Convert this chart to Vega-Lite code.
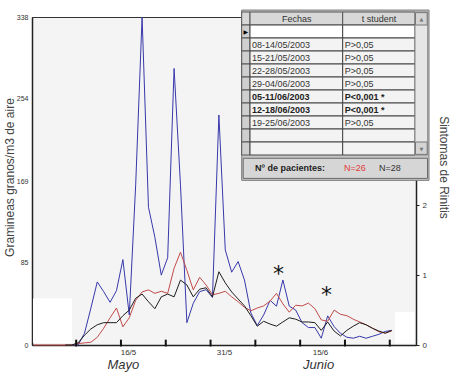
{
  "$schema": "https://vega.github.io/schema/vega-lite/v6.json",
  "width": 384,
  "height": 328,
  "autosize": {"type": "none"},
  "padding": {"left": 32, "top": 17, "right": 41, "bottom": 32},
  "background": "#ffffff",
  "config": {
    "font": "Liberation Sans",
    "view": {"fill": "#f4f4f4", "stroke": "#333333", "strokeWidth": 1},
    "axis": {"labelFont": "Liberation Sans", "titleFont": "Liberation Sans", "labelColor": "#333333", "titleColor": "#444444", "domainColor": "#222222", "tickColor": "#222222", "grid": false, "titleFontWeight": "normal"}
  },
  "datasets": {
    "series": [
      {"dia": 1, "polen": null, "n26": 0, "n28": null},
      {"dia": 2, "polen": null, "n26": 0, "n28": null},
      {"dia": 3, "polen": null, "n26": 0, "n28": null},
      {"dia": 4, "polen": null, "n26": 0, "n28": null},
      {"dia": 5, "polen": null, "n26": 0, "n28": null},
      {"dia": 6, "polen": null, "n26": 0, "n28": 0},
      {"dia": 7, "polen": 0, "n26": 0, "n28": 0},
      {"dia": 8, "polen": 0, "n26": 0.02, "n28": 0.03},
      {"dia": 9, "polen": 12, "n26": 0.03, "n28": 0.14},
      {"dia": 10, "polen": 38, "n26": 0.04, "n28": 0.23},
      {"dia": 11, "polen": 65, "n26": 0.11, "n28": 0.29},
      {"dia": 12, "polen": 55, "n26": 0.24, "n28": 0.32},
      {"dia": 13, "polen": 44, "n26": 0.39, "n28": 0.32},
      {"dia": 14, "polen": 56, "n26": 0.53, "n28": 0.32},
      {"dia": 15, "polen": 88, "n26": 0.26, "n28": 0.42},
      {"dia": 16, "polen": 31, "n26": 0.39, "n28": 0.5},
      {"dia": 17, "polen": 165, "n26": 0.64, "n28": 0.67},
      {"dia": 18, "polen": 338, "n26": 0.76, "n28": 0.73},
      {"dia": 19, "polen": 142, "n26": 0.79, "n28": 0.62},
      {"dia": 20, "polen": 111, "n26": 0.74, "n28": 0.52},
      {"dia": 21, "polen": 72, "n26": 0.77, "n28": 0.69},
      {"dia": 22, "polen": 90, "n26": 0.74, "n28": 0.73},
      {"dia": 23, "polen": 285, "n26": 1.1, "n28": 0.69},
      {"dia": 24, "polen": 165, "n26": 1.33, "n28": 0.93},
      {"dia": 25, "polen": 23, "n26": 1.07, "n28": 0.86},
      {"dia": 26, "polen": 43, "n26": 0.79, "n28": 0.69},
      {"dia": 27, "polen": 55, "n26": 0.97, "n28": 0.8},
      {"dia": 28, "polen": 57, "n26": 0.86, "n28": 0.82},
      {"dia": 29, "polen": 49, "n26": 0.72, "n28": 0.69},
      {"dia": 30, "polen": 237, "n26": 0.74, "n28": 1.05},
      {"dia": 31, "polen": 98, "n26": 0.77, "n28": 0.89},
      {"dia": 32, "polen": 75, "n26": 0.69, "n28": 0.76},
      {"dia": 33, "polen": 86, "n26": 0.62, "n28": 0.66},
      {"dia": 34, "polen": 67, "n26": 0.54, "n28": 0.56},
      {"dia": 35, "polen": 33, "n26": 0.49, "n28": 0.42},
      {"dia": 36, "polen": 20, "n26": 0.53, "n28": 0.27},
      {"dia": 37, "polen": 31, "n26": 0.56, "n28": 0.34},
      {"dia": 38, "polen": 46, "n26": 0.63, "n28": 0.3},
      {"dia": 39, "polen": 40, "n26": 0.74, "n28": 0.27},
      {"dia": 40, "polen": 67, "n26": 0.59, "n28": 0.33},
      {"dia": 41, "polen": 40, "n26": 0.47, "n28": 0.39},
      {"dia": 42, "polen": 36, "n26": 0.57, "n28": 0.37},
      {"dia": 43, "polen": 23, "n26": 0.56, "n28": 0.33},
      {"dia": 44, "polen": 18, "n26": 0.6, "n28": 0.33},
      {"dia": 45, "polen": 18, "n26": 0.52, "n28": 0.32},
      {"dia": 46, "polen": 7, "n26": 0.36, "n28": 0.21},
      {"dia": 47, "polen": 30, "n26": 0.34, "n28": 0.33},
      {"dia": 48, "polen": 19, "n26": 0.5, "n28": 0.2},
      {"dia": 49, "polen": 12, "n26": 0.44, "n28": 0.13},
      {"dia": 50, "polen": 8, "n26": 0.42, "n28": 0.21},
      {"dia": 51, "polen": 7, "n26": 0.37, "n28": 0.27},
      {"dia": 52, "polen": 9, "n26": 0.33, "n28": 0.32},
      {"dia": 53, "polen": 7, "n26": 0.29, "n28": 0.29},
      {"dia": 54, "polen": 9, "n26": 0.24, "n28": 0.24},
      {"dia": 55, "polen": 11, "n26": 0.19, "n28": 0.2},
      {"dia": 56, "polen": 14, "n26": 0.17, "n28": 0.17},
      {"dia": 57, "polen": 15, "n26": 0.2, "n28": 0.21}
    ],
    "semanas": [
      {"dia": 7.7}, {"dia": 14.7}, {"dia": 21.7}, {"dia": 28.7},
      {"dia": 35.7}, {"dia": 42.7}, {"dia": 49.7}, {"dia": 56.7}
    ],
    "asteriscos": [
      {"dia": 39.3, "nivel": 1.085},
      {"dia": 46.8, "nivel": 0.79}
    ],
    "tabla": [
      {"fila": 1, "fechas": "", "t": ""},
      {"fila": 2, "fechas": "08-14/05/2003", "t": "P>0,05"},
      {"fila": 3, "fechas": "15-21/05/2003", "t": "P>0,05"},
      {"fila": 4, "fechas": "22-28/05/2003", "t": "P>0,05"},
      {"fila": 5, "fechas": "29-04/06/2003", "t": "P>0,05"},
      {"fila": 6, "fechas": "05-11/06/2003", "t": "P<0,001  *"},
      {"fila": 7, "fechas": "12-18/06/2003", "t": "P<0,001  *"},
      {"fila": 8, "fechas": "19-25/06/2003", "t": "P>0,05"},
      {"fila": 9, "fechas": "", "t": ""},
      {"fila": 10, "fechas": "", "t": ""}
    ],
    "uno": [{}]
  },
  "layer": [
    {
      "data": {"name": "series"},
      "layer": [
        {
          "data": {"name": "uno"},
          "mark": {"type": "rect", "fill": "#ffffff"},
          "encoding": {
            "x": {"datum": 0.95, "type": "quantitative", "axis": null},
            "x2": {"datum": 7.05},
            "y": {"datum": 2, "type": "quantitative", "scale": {"domain": [0, 338], "nice": false}, "axis": null},
            "y2": {"datum": 48}
          }
        },
        {
          "data": {"name": "uno"},
          "mark": {"type": "rect", "fill": "#ffffff"},
          "encoding": {
            "x": {"datum": 57.5, "type": "quantitative", "axis": null},
            "x2": {"datum": 60.55},
            "y": {"datum": 1.5, "type": "quantitative", "scale": {"domain": [0, 338], "nice": false}, "axis": null},
            "y2": {"datum": 34}
          }
        },
        {
          "transform": [{"filter": "isValid(datum.polen)"}],
          "mark": {"type": "line", "color": "#3838ac", "strokeWidth": 1},
          "encoding": {
            "x": {
              "field": "dia", "type": "quantitative",
              "scale": {"domain": [0.8, 60.8], "nice": false, "zero": false},
              "axis": null
            },
            "y": {
              "field": "polen", "type": "quantitative",
              "scale": {"domain": [0, 338], "nice": false},
              "axis": {
                "values": [0, 85, 169, 254, 338], "tickSize": 0, "labelPadding": 4, "labelFontSize": 7,
                "title": "Gramineas granos/m3 de aire", "titleFontSize": 12, "titlePadding": 0, "titleY": 160, "domainWidth": 1.5
              }
            }
          }
        },
        {
          "transform": [
            {"fold": ["n26", "n28"], "as": ["grupo", "sintomas"]},
            {"filter": "isValid(datum.sintomas)"}
          ],
          "mark": {"type": "line", "strokeWidth": 1},
          "encoding": {
            "x": {
              "field": "dia", "type": "quantitative",
              "axis": {
                "orient": "bottom", "title": null,
                "values": [15.8, 30.8, 45.8],
                "labelExpr": "datum.value < 20 ? '16/5' : datum.value < 40 ? '31/5' : '15/6'",
                "labelOverlap": false, "labelBound": false, "labelFlush": false,
                "ticks": false, "domain": true, "domainWidth": 1.5, "labelPadding": 3, "labelFontSize": 8
              }
            },
            "y": {
              "field": "sintomas", "type": "quantitative",
              "scale": {"domain": [0, 4.7], "nice": false},
              "axis": {
                "orient": "right", "values": [0, 1, 2, 3, 4], "tickSize": 3, "labelPadding": 3, "labelFontSize": 8,
                "title": "Sintomas de Rinitis", "titleFontSize": 12, "titlePadding": 10, "titleY": 150, "domainWidth": 1.5
              }
            },
            "color": {"field": "grupo", "type": "nominal", "scale": {"domain": ["n26", "n28"], "range": ["#c24a4a", "#1e1e1e"]}, "legend": null}
          }
        },
        {
          "data": {"name": "semanas"},
          "mark": {"type": "rule", "color": "#111111", "strokeWidth": 2},
          "encoding": {
            "x": {"field": "dia", "type": "quantitative", "axis": null},
            "y": {"datum": -1.5, "type": "quantitative", "scale": {"domain": [0, 338], "nice": false}, "axis": null},
            "y2": {"datum": 5.5}
          }
        },
        {
          "data": {"name": "asteriscos"},
          "mark": {"type": "text", "text": "*", "font": "DejaVu Sans", "fontSize": 22, "color": "#111111", "baseline": "middle", "dy": 5},
          "encoding": {
            "x": {
              "field": "dia", "type": "quantitative",
              "axis": {
                "orient": "bottom", "title": null,
                "values": [15, 45.5],
                "labelExpr": "datum.value < 30 ? 'Mayo' : 'Junio'",
                "labelOverlap": false, "labelBound": false, "labelFlush": false,
                "ticks": false, "domain": false, "labelPadding": 13, "labelFontSize": 13, "labelFontStyle": "italic"
              }
            },
            "y": {"field": "nivel", "type": "quantitative", "scale": {"domain": [0, 4.7], "nice": false}, "axis": null}
          }
        }
      ],
      "resolve": {"scale": {"y": "independent"}, "axis": {"x": "independent"}}
    },
    {
      "layer": [
        {
          "data": {"name": "uno"},
          "mark": {"type": "rect", "fill": "#c6c6c6", "stroke": "#7a7a7a", "strokeWidth": 1},
          "encoding": {
            "x": {"datum": 0, "type": "quantitative", "scale": {"domain": [0, 187.3], "range": [209.7, 397], "nice": false, "zero": false}, "axis": null},
            "x2": {"datum": 187.3},
            "y": {"datum": -0.15, "type": "quantitative", "scale": {"domain": [0, 13], "range": [-5, 164], "nice": false, "zero": false}, "axis": null},
            "y2": {"datum": 12.95}
          }
        },
        {
          "data": {"name": "uno"},
          "mark": {"type": "rect", "fill": "#d8d8d8", "stroke": "#555555", "strokeWidth": 1},
          "encoding": {"x": {"datum": 0, "type": "quantitative"}, "x2": {"datum": 8.3}, "y": {"datum": 0, "type": "quantitative"}, "y2": {"datum": 1}}
        },
        {
          "data": {"name": "uno"},
          "mark": {"type": "rect", "fill": "#d8d8d8", "stroke": "#555555", "strokeWidth": 1},
          "encoding": {"x": {"datum": 8.3, "type": "quantitative"}, "x2": {"datum": 101}, "y": {"datum": 0, "type": "quantitative"}, "y2": {"datum": 1}}
        },
        {
          "data": {"name": "uno"},
          "mark": {"type": "rect", "fill": "#d8d8d8", "stroke": "#555555", "strokeWidth": 1},
          "encoding": {"x": {"datum": 101, "type": "quantitative"}, "x2": {"datum": 173.3}, "y": {"datum": 0, "type": "quantitative"}, "y2": {"datum": 1}}
        },
        {
          "data": {"name": "tabla"},
          "transform": [{"calculate": "datum.fila + 1", "as": "fila2"}],
          "mark": {"type": "rect", "fill": "#cfcfcf", "stroke": "#555555", "strokeWidth": 1},
          "encoding": {"x": {"datum": 0, "type": "quantitative"}, "x2": {"datum": 8.3}, "y": {"field": "fila", "type": "quantitative"}, "y2": {"field": "fila2"}}
        },
        {
          "data": {"name": "tabla"},
          "transform": [{"calculate": "datum.fila + 1", "as": "fila2"}],
          "mark": {"type": "rect", "stroke": "#444444", "strokeWidth": 1},
          "encoding": {
            "x": {"datum": 8.3, "type": "quantitative"}, "x2": {"datum": 101},
            "y": {"field": "fila", "type": "quantitative"}, "y2": {"field": "fila2"},
            "fill": {"condition": {"test": "datum.fila == 1", "value": "#ffffff"}, "value": "#f3f3f3"}
          }
        },
        {
          "data": {"name": "tabla"},
          "transform": [{"calculate": "datum.fila + 1", "as": "fila2"}],
          "mark": {"type": "rect", "stroke": "#444444", "strokeWidth": 1},
          "encoding": {
            "x": {"datum": 101, "type": "quantitative"}, "x2": {"datum": 173.3},
            "y": {"field": "fila", "type": "quantitative"}, "y2": {"field": "fila2"},
            "fill": {"condition": {"test": "datum.fila == 1", "value": "#ffffff"}, "value": "#f3f3f3"}
          }
        },
        {
          "data": {"name": "uno"},
          "mark": {"type": "rect", "fill": "#e6e6e6", "stroke": "#888888", "strokeWidth": 1},
          "encoding": {"x": {"datum": 173.3, "type": "quantitative"}, "x2": {"datum": 186}, "y": {"datum": 0, "type": "quantitative"}, "y2": {"datum": 11}}
        },
        {
          "data": {"name": "uno"},
          "mark": {"type": "rect", "fill": "#d4d4d4", "stroke": "#777777", "strokeWidth": 1},
          "encoding": {"x": {"datum": 173.8, "type": "quantitative"}, "x2": {"datum": 185.5}, "y": {"datum": 0.05, "type": "quantitative"}, "y2": {"datum": 1}}
        },
        {
          "data": {"name": "uno"},
          "mark": {"type": "rect", "fill": "#d4d4d4", "stroke": "#777777", "strokeWidth": 1},
          "encoding": {"x": {"datum": 173.8, "type": "quantitative"}, "x2": {"datum": 185.5}, "y": {"datum": 10, "type": "quantitative"}, "y2": {"datum": 10.95}}
        },
        {
          "data": {"name": "uno"},
          "mark": {"type": "rect", "fill": "#d6d6d6", "stroke": "#6a6a6a", "strokeWidth": 1},
          "encoding": {"x": {"datum": 1.5, "type": "quantitative"}, "x2": {"datum": 185.8}, "y": {"datum": 11.25, "type": "quantitative"}, "y2": {"datum": 12.8}}
        },
        {
          "data": {"name": "uno"},
          "mark": {"type": "text", "text": "Fechas", "fontSize": 9, "color": "#333333", "align": "center", "baseline": "middle"},
          "encoding": {"x": {"datum": 55, "type": "quantitative"}, "y": {"datum": 0.5, "type": "quantitative"}}
        },
        {
          "data": {"name": "uno"},
          "mark": {"type": "text", "text": "t student", "fontSize": 9, "color": "#333333", "align": "center", "baseline": "middle"},
          "encoding": {"x": {"datum": 137.3, "type": "quantitative"}, "y": {"datum": 0.5, "type": "quantitative"}}
        },
        {
          "data": {"name": "uno"},
          "mark": {"type": "text", "text": "▶", "fontSize": 6, "color": "#000000", "align": "center", "baseline": "middle", "font": "DejaVu Sans"},
          "encoding": {"x": {"datum": 4.15, "type": "quantitative"}, "y": {"datum": 1.5, "type": "quantitative"}}
        },
        {
          "data": {"name": "uno"},
          "mark": {"type": "text", "text": "▲", "fontSize": 5, "color": "#777777", "align": "center", "baseline": "middle", "font": "DejaVu Sans"},
          "encoding": {"x": {"datum": 179.6, "type": "quantitative"}, "y": {"datum": 0.5, "type": "quantitative"}}
        },
        {
          "data": {"name": "uno"},
          "mark": {"type": "text", "text": "▼", "fontSize": 5, "color": "#777777", "align": "center", "baseline": "middle", "font": "DejaVu Sans"},
          "encoding": {"x": {"datum": 179.6, "type": "quantitative"}, "y": {"datum": 10.5, "type": "quantitative"}}
        },
        {
          "data": {"name": "tabla"},
          "transform": [{"filter": "indexof(datum.t, '<') < 0"}],
          "mark": {"type": "text", "fontSize": 9, "color": "#333333", "align": "left", "baseline": "middle", "dx": 2, "dy": 6.5},
          "encoding": {"x": {"datum": 8.3, "type": "quantitative"}, "y": {"field": "fila", "type": "quantitative"}, "text": {"field": "fechas"}}
        },
        {
          "data": {"name": "tabla"},
          "transform": [{"filter": "indexof(datum.t, '<') < 0"}],
          "mark": {"type": "text", "fontSize": 9, "color": "#333333", "align": "left", "baseline": "middle", "dx": 2, "dy": 6.5},
          "encoding": {"x": {"datum": 101, "type": "quantitative"}, "y": {"field": "fila", "type": "quantitative"}, "text": {"field": "t"}}
        },
        {
          "data": {"name": "tabla"},
          "transform": [{"filter": "indexof(datum.t, '<') >= 0"}],
          "mark": {"type": "text", "fontSize": 9, "fontWeight": "bold", "color": "#222222", "align": "left", "baseline": "middle", "dx": 2, "dy": 6.5},
          "encoding": {"x": {"datum": 8.3, "type": "quantitative"}, "y": {"field": "fila", "type": "quantitative"}, "text": {"field": "fechas"}}
        },
        {
          "data": {"name": "tabla"},
          "transform": [{"filter": "indexof(datum.t, '<') >= 0"}],
          "mark": {"type": "text", "fontSize": 9, "fontWeight": "bold", "color": "#222222", "align": "left", "baseline": "middle", "dx": 2, "dy": 6.5},
          "encoding": {"x": {"datum": 101, "type": "quantitative"}, "y": {"field": "fila", "type": "quantitative"}, "text": {"field": "t"}}
        },
        {
          "data": {"name": "uno"},
          "mark": {"type": "text", "text": "Nº de pacientes:", "fontSize": 9, "fontWeight": "bold", "color": "#222222", "align": "center", "baseline": "middle"},
          "encoding": {"x": {"datum": 48.3, "type": "quantitative"}, "y": {"datum": 12.02, "type": "quantitative"}}
        },
        {
          "data": {"name": "uno"},
          "mark": {"type": "text", "text": "N=26", "fontSize": 9, "color": "#e03a3a", "align": "center", "baseline": "middle"},
          "encoding": {"x": {"datum": 113.3, "type": "quantitative"}, "y": {"datum": 12.02, "type": "quantitative"}}
        },
        {
          "data": {"name": "uno"},
          "mark": {"type": "text", "text": "N=28", "fontSize": 9, "color": "#333333", "align": "center", "baseline": "middle"},
          "encoding": {"x": {"datum": 148.3, "type": "quantitative"}, "y": {"datum": 12.02, "type": "quantitative"}}
        }
      ]
    }
  ],
  "resolve": {"scale": {"x": "independent", "y": "independent"}}
}
